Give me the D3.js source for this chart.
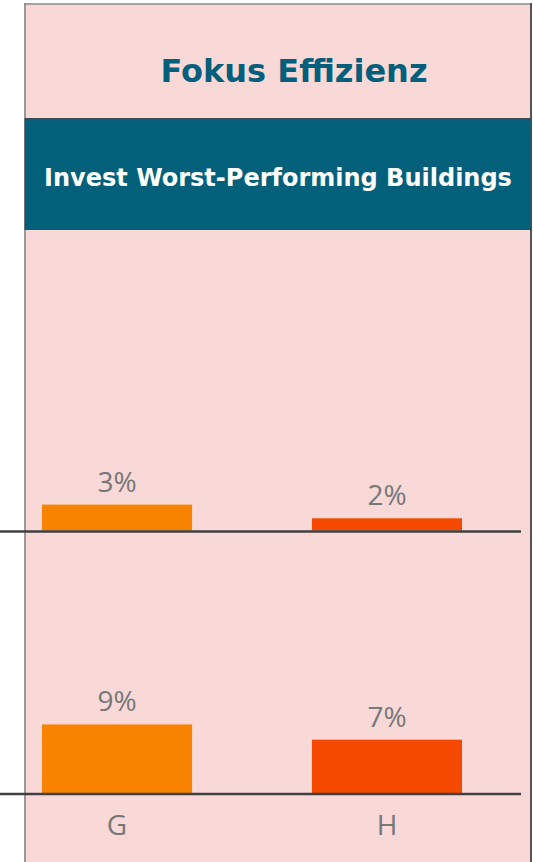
<!DOCTYPE html>
<html>
<head>
<meta charset="utf-8">
<script src="https://cdn.jsdelivr.net/npm/d3@7"></script>
<style>
  body { margin: 0; background: #fff; }
  svg { display: block; }
</style>
</head>
<body>
<div class="chart"></div>
<script>
// chart data
var categories = ["G", "H"];
var upperValues = [3.4, 1.6];
var lowerValues = [9.0, 7.0];
var barColors = ["#f78300", "#f54900"];
var title = "Fokus Effizienz";
var subtitle = "Invest Worst-Performing Buildings";

var width = 533, height = 862;

// pixels per percent point, shared by both rows
var pxPerPct = 7.62;

var svg = d3.select(".chart")
    .append("svg")
    .attr("width", width)
    .attr("height", height);

// panel background and frame
svg.append("rect")
    .attr("x", 25).attr("y", 4)
    .attr("width", 506).attr("height", height)
    .attr("fill", "#f8d9d8");

svg.append("line")
    .attr("x1", 25).attr("x2", 25).attr("y1", 3).attr("y2", height)
    .attr("stroke", "#9a9a9a").attr("stroke-width", 2);
svg.append("line")
    .attr("x1", 24).attr("x2", 531).attr("y1", 4).attr("y2", 4)
    .attr("stroke", "#8a8a8a").attr("stroke-width", 1.5);
svg.append("line")
    .attr("x1", 531).attr("x2", 531).attr("y1", 3).attr("y2", height)
    .attr("stroke", "#555").attr("stroke-width", 2);

// title
svg.append("text")
    .attr("x", 294).attr("y", 82)
    .attr("text-anchor", "middle")
    .style("font-family", "'DejaVu Sans', Verdana, sans-serif")
    .style("font-weight", "bold")
    .style("font-size", "32px")
    .attr("fill", "#035f7b")
    .text(title);

// subtitle band
svg.append("rect")
    .attr("x", 25).attr("y", 118.5)
    .attr("width", 506).attr("height", 111)
    .attr("fill", "#02607b")
    .attr("stroke", "#3d4a50").attr("stroke-width", 1);

svg.append("text")
    .attr("x", 278).attr("y", 186)
    .attr("text-anchor", "middle")
    .style("font-family", "'DejaVu Sans', Verdana, sans-serif")
    .style("font-weight", "bold")
    .style("font-size", "24px")
    .attr("fill", "#ffffff")
    .text(subtitle);

// x scale
var x = d3.scaleBand()
    .domain(categories)
    .range([42, 462])
    .paddingInner(0.444)
    .paddingOuter(0);

// draw one row of bars on a given baseline
function drawRow(values, baseline) {
  var y = d3.scaleLinear()
      .domain([0, 10])
      .range([baseline, baseline - 10 * pxPerPct]);

  var g = svg.append("g");

  g.selectAll(".bar")
      .data(values)
    .enter().append("rect")
      .classed("bar", true)
      .attr("x", function(d, i) { return x(categories[i]); })
      .attr("width", x.bandwidth())
      .attr("y", function(d) { return y(d); })
      .attr("height", function(d) { return baseline - y(d); })
      .attr("fill", function(d, i) { return barColors[i]; });

  g.selectAll(".label")
      .data(values)
    .enter().append("text")
      .classed("label", true)
      .attr("x", function(d, i) { return x(categories[i]) + x.bandwidth() / 2; })
      .attr("y", function(d) { return y(d) - 13; })
      .attr("text-anchor", "middle")
      .style("font-family", "'Open Sans', 'Noto Sans', sans-serif")
      .style("font-size", "28px")
      .attr("fill", "#777")
      .text(function(d) { return Math.round(d) + "%"; });

  // baseline
  g.append("line")
      .attr("x1", 0).attr("x2", 521)
      .attr("y1", baseline + 1).attr("y2", baseline + 1)
      .attr("stroke", "#404040").attr("stroke-width", 2.3);

  return g;
}

drawRow(upperValues, 530.5);
drawRow(lowerValues, 793);

// category axis under the lower row
var xAxis = d3.axisBottom(x).tickSize(0).tickPadding(21);

var axisG = svg.append("g")
    .attr("transform", "translate(0,794)")
    .call(xAxis);

axisG.select(".domain").remove();
axisG.selectAll("text")
    .style("font-family", "'Open Sans', 'Noto Sans', sans-serif")
    .style("font-size", "28px")
    .attr("fill", "#777");
</script>
</body>
</html>
